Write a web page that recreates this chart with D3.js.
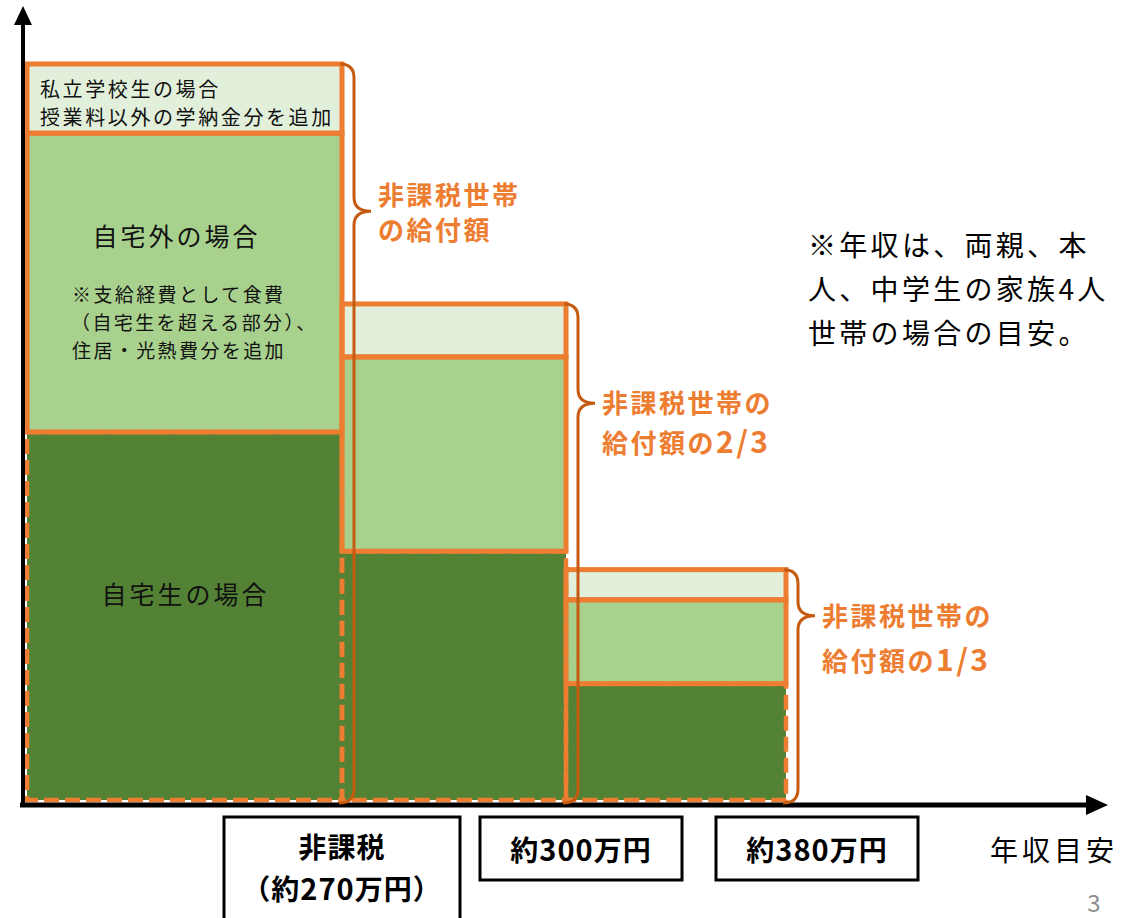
<!DOCTYPE html>
<html><head><meta charset="utf-8">
<script src="https://cdn.jsdelivr.net/npm/d3@7"></script>
<style>
html,body{margin:0;padding:0;background:#fff;}
svg{display:block;font-family:'Noto Sans CJK JP','Noto Sans',sans-serif;}
</style></head>
<body><svg id="chart" width="1126" height="918"></svg>
<script>
// ---- data ----
const categories = ["非課税", "約300万円", "約380万円"];
const homeValues = [50.0, 33.8, 15.8];      // 自宅生の場合
const awayValues = [40.6, 26.4, 11.4];      // 自宅外の場合（追加分）
const privateValues = [9.4, 7.2, 4.1];      // 私立学校生の場合（追加分）
const incomeLabels = [["非課税", "（約270万円）"], ["約300万円"], ["約380万円"]];
const braceLabels = [["非課税世帯", "の給付額"], ["非課税世帯の", "給付額の2/3"], ["非課税世帯の", "給付額の1/3"]];
const noteLines = ["※年収は、両親、本", "人、中学生の家族4人", "世帯の場合の目安。"];
const privateText = ["私立学校生の場合", "授業料以外の学納金分を追加"];
const awayTitle = "自宅外の場合";
const awayNote = ["※支給経費として食費", "（自宅生を超える部分）、", "住居・光熱費分を追加"];
const homeTitle = "自宅生の場合";
const axisTitle = "年収目安";
const pageNumber = "3";

// ---- layout ----
const barSpan = [315, 224, 220];
const braceDy = [-6, 10, 10];
const braceLineGap = [35, 40, 45];
const boxW = [236, 202, 202];
const boxH = [110, 63, 63];
const C = {vlight: "#E2EFDA", light: "#A9D18E", dark: "#548235", orange: "#ED7D31", brace: "#C55A11"};

const svg = d3.select("#chart");
const y = d3.scaleLinear().domain([0, 100]).range([800, 64]);
const spanTotal = d3.sum(barSpan);
const x = d3.scaleLinear().domain([0, spanTotal]).range([27, 786]);
const cum = barSpan.map((d, i) => d3.sum(barSpan.slice(0, i)));

const bars = categories.map((c, i) => {
  const x0 = x(cum[i]), x1 = x(cum[i] + barSpan[i]);
  const h = homeValues[i], a = awayValues[i], p = privateValues[i];
  return {i, c, x0, x1, segs: [
    {key: "dark", y0: 0, y1: h},
    {key: "light", y0: h, y1: h + a},
    {key: "vlight", y0: h + a, y1: h + a + p}
  ], total: h + a + p};
});

// write text with digit runs enlarged
function richText(t, str, digitSize) {
  const parts = str.match(/[0-9\/]+|[^0-9\/]+/g);
  parts.forEach(p => {
    const s = t.append("tspan").text(p);
    if (/^[0-9\/]+$/.test(p) && digitSize) s.attr("font-size", digitSize);
  });
}

// bars
const g = svg.append("g");
bars.forEach(b => {
  b.segs.forEach(s => {
    g.append("rect")
      .attr("x", b.x0).attr("y", y(s.y1))
      .attr("width", b.x1 - b.x0).attr("height", y(s.y0) - y(s.y1))
      .attr("fill", C[s.key]);
  });
});
bars.forEach(b => {
  b.segs.forEach(s => {
    const r = g.append("rect")
      .attr("x", b.x0).attr("y", y(s.y1))
      .attr("width", b.x1 - b.x0).attr("height", y(s.y0) - y(s.y1))
      .attr("fill", "none").attr("stroke", C.orange);
    if (s.key === "dark") r.attr("stroke-width", 4.5).attr("stroke-dasharray", "15,6");
    else r.attr("stroke-width", 5);
  });
});

// axes
const axisG = svg.append("g");
const yAxisX = 23;
axisG.append("line").attr("x1", yAxisX).attr("x2", yAxisX).attr("y1", y(0) + 5).attr("y2", 22)
  .attr("stroke", "#000").attr("stroke-width", 4);
axisG.append("path").attr("d", `M${yAxisX},6 L${yAxisX - 9},25 L${yAxisX + 9},25 Z`).attr("fill", "#000");
axisG.append("line").attr("x1", 20).attr("x2", 1090).attr("y1", y(0) + 5).attr("y2", y(0) + 5)
  .attr("stroke", "#000").attr("stroke-width", 5);
axisG.append("path").attr("d", `M1108,${y(0) + 5} L1086,${y(0) - 5} L1086,${y(0) + 15} Z`).attr("fill", "#000");

// braces
bars.forEach((b, i) => {
  const xR = b.x1, yT = y(b.total), yB = y(0) + 3;
  const xv = xR + 12, r = 14, tip = 17;
  const yTip = yT + 0.2 * (y(0) - yT);
  const d = `M${xR - 2},${yT} Q${xv},${yT} ${xv},${yT + r} L${xv},${yTip - r} Q${xv},${yTip} ${xv + tip},${yTip}` +
            ` Q${xv},${yTip} ${xv},${yTip + r} L${xv},${yB - r} Q${xv},${yB} ${xR - 3},${yB}`;
  svg.append("path").attr("d", d).attr("fill", "none").attr("stroke", C.brace).attr("stroke-width", 3);
  braceLabels[i].forEach((line, k) => {
    const t = svg.append("text").attr("fill", C.orange).attr("font-weight", 700)
      .attr("font-size", 26).attr("letter-spacing", 2.5)
      .attr("x", xv + 24).attr("y", yTip + braceDy[i] + k * braceLineGap[i]);
    richText(t, line, 30);
  });
});

// texts inside bar 1
const b1 = bars[0];
const tp = svg.append("text").attr("font-size", 20).attr("fill", "#111").attr("letter-spacing", 2.6);
privateText.forEach((l, k) => tp.append("tspan").attr("x", b1.x0 + 13).attr("y", 97 + k * 28).text(l));
svg.append("text").attr("x", (b1.x0 + b1.x1) / 2 - 8).attr("y", 246).attr("text-anchor", "middle")
  .attr("font-size", 25).attr("letter-spacing", 3).attr("fill", "#111").text(awayTitle);
const tn = svg.append("text").attr("font-size", 19).attr("fill", "#111").attr("letter-spacing", 2.4);
awayNote.forEach((l, k) => tn.append("tspan").attr("x", b1.x0 + 45 - (k === 1 ? 1 : 0)).attr("y", 302 + k * 28).text(l));
svg.append("text").attr("x", (b1.x0 + b1.x1) / 2 + 1).attr("y", 604).attr("text-anchor", "middle")
  .attr("font-size", 25).attr("letter-spacing", 3).attr("fill", "#111").text(homeTitle);

// income boxes
const lineY = [[858, 900], [861], [861]];
bars.forEach((b, i) => {
  const cx = b.x1 + [0, 15, 31][i];
  const bx = cx - boxW[i] / 2, by = 817;
  svg.append("rect").attr("x", bx).attr("y", by).attr("width", boxW[i]).attr("height", boxH[i])
    .attr("fill", "#fff").attr("stroke", "#000").attr("stroke-width", 3);
  incomeLabels[i].forEach((l, k) => {
    const t = svg.append("text").attr("text-anchor", "middle").attr("font-weight", 700)
      .attr("font-size", 28).attr("letter-spacing", 1).attr("fill", "#000")
      .attr("x", cx).attr("y", lineY[i][k]);
    richText(t, l, 29);
  });
});

// axis title, note, page number
svg.append("text").attr("x", 990).attr("y", 861).attr("font-size", 28).attr("letter-spacing", 4)
  .attr("fill", "#000").text(axisTitle);
const nt = svg.append("text").attr("font-size", 28).attr("letter-spacing", 3.3).attr("fill", "#000");
noteLines.forEach((l, k) => nt.append("tspan").attr("x", 808).attr("y", 256 + k * 44).text(l));
svg.append("text").attr("x", 1094).attr("y", 912).attr("text-anchor", "middle").attr("font-size", 24)
  .attr("fill", "#8c8c8c").text(pageNumber);
</script>
</body></html>
